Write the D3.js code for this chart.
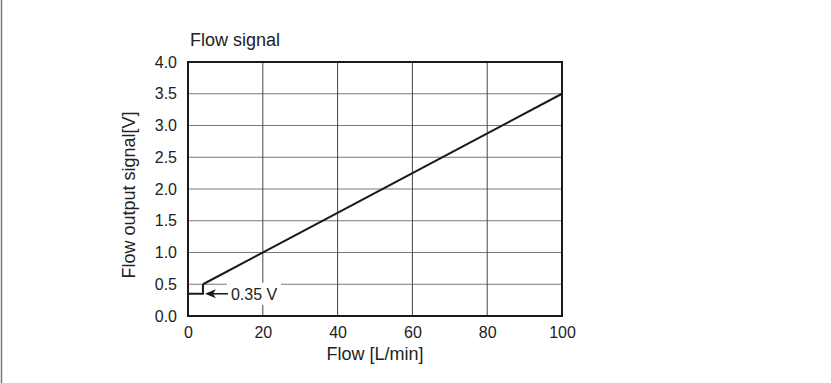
<!DOCTYPE html>
<html><head><meta charset="utf-8">
<script src="https://cdn.jsdelivr.net/npm/d3@7"></script>
<style>body{margin:0;background:#fff}svg{display:block}text{font-family:"Liberation Sans",Arial,sans-serif;fill:#222}</style>
</head><body>
<svg id="c" width="831" height="383"></svg>
<script>
const xTicks = [0, 20, 40, 60, 80, 100];
const yTicks = [0.0, 0.5, 1.0, 1.5, 2.0, 2.5, 3.0, 3.5, 4.0];
const flow = [4, 100];
const signal = [0.5, 3.5];
const offsetFlow = [0, 4, 4];
const offsetSignal = [0.35, 0.35, 0.5];
const annotation = {label: "0.35 V", flow: 4, value: 0.35};
const title = "Flow signal";
const xLabel = "Flow [L/min]";
const yLabel = "Flow output signal[V]";

const svg = d3.select("#c");
const L = 188, R = 562, T = 62, B = 316;
const x = d3.scaleLinear().domain([0, 100]).range([L, R]);
const y = d3.scaleLinear().domain([0, 4]).range([B, T]);
const FF = '"Liberation Sans",Arial,sans-serif';

// left page border
svg.append("line").attr("x1", 1.5).attr("x2", 1.5).attr("y1", 0).attr("y2", 383)
  .attr("stroke", "#777").attr("stroke-width", 1.5);

// grid
svg.append("g").selectAll("line").data(yTicks).join("line")
  .attr("x1", L).attr("x2", R).attr("y1", d => y(d)).attr("y2", d => y(d))
  .attr("stroke", "#777").attr("stroke-width", 1);
svg.append("g").selectAll("line").data(xTicks).join("line")
  .attr("y1", T).attr("y2", B).attr("x1", d => x(d)).attr("x2", d => x(d))
  .attr("stroke", "#444").attr("stroke-width", 1);

// axes labels via d3 axes (no lines)
const ax = svg.append("g").attr("transform", `translate(0,${B})`)
  .call(d3.axisBottom(x).tickValues(xTicks).tickSize(0).tickPadding(11).tickFormat(d3.format("d")));
ax.select(".domain").remove();
ax.selectAll("text").attr("font-size", 16).attr("fill", "#222").attr("font-family", FF);
const ay = svg.append("g").attr("transform", `translate(${L},0)`)
  .call(d3.axisLeft(y).tickValues(yTicks).tickSize(0).tickPadding(11).tickFormat(d3.format(".1f")));
ay.select(".domain").remove();
ay.selectAll("text").attr("font-size", 16).attr("fill", "#222").attr("font-family", FF);

// frame
svg.append("rect").attr("x", L).attr("y", T).attr("width", R - L).attr("height", B - T)
  .attr("fill", "none").attr("stroke", "#1a1a1a").attr("stroke-width", 2);

// data line
const line = d3.line().x(d => x(d[0])).y(d => y(d[1]));
svg.append("path").datum(flow.map((f, i) => [f, signal[i]])).attr("d", line)
  .attr("fill", "none").attr("stroke", "#1a1a1a").attr("stroke-width", 2);
svg.append("path").datum(offsetFlow.map((f, i) => [f, offsetSignal[i]])).attr("d", line)
  .attr("fill", "none").attr("stroke", "#1a1a1a").attr("stroke-width", 2);

// annotation
const ax0 = x(annotation.flow), ay0 = y(annotation.value);
svg.append("rect").attr("x", ax0 + 24).attr("y", ay0 - 11).attr("width", 54).attr("height", 22).attr("fill", "#fff");
svg.append("line").attr("x1", ax0 + 25).attr("x2", ax0 + 6).attr("y1", ay0).attr("y2", ay0)
  .attr("stroke", "#1a1a1a").attr("stroke-width", 1.5);
svg.append("path").attr("d", `M${ax0 + 2},${ay0} L${ax0 + 13},${ay0 - 4.5} L${ax0 + 10},${ay0} L${ax0 + 13},${ay0 + 4.5} Z`)
  .attr("fill", "#1a1a1a");
svg.append("text").attr("x", ax0 + 28).attr("y", ay0 + 6).attr("font-size", 16).text(annotation.label);

// titles
svg.append("text").attr("x", 190).attr("y", 46).attr("font-size", 18).text(title);
svg.append("text").attr("x", (L + R) / 2).attr("y", 360).attr("text-anchor", "middle").attr("font-size", 18).text(xLabel);
svg.append("text").attr("transform", `translate(135,195) rotate(-90)`).attr("text-anchor", "middle").attr("font-size", 18).text(yLabel);
</script>
</body></html>
